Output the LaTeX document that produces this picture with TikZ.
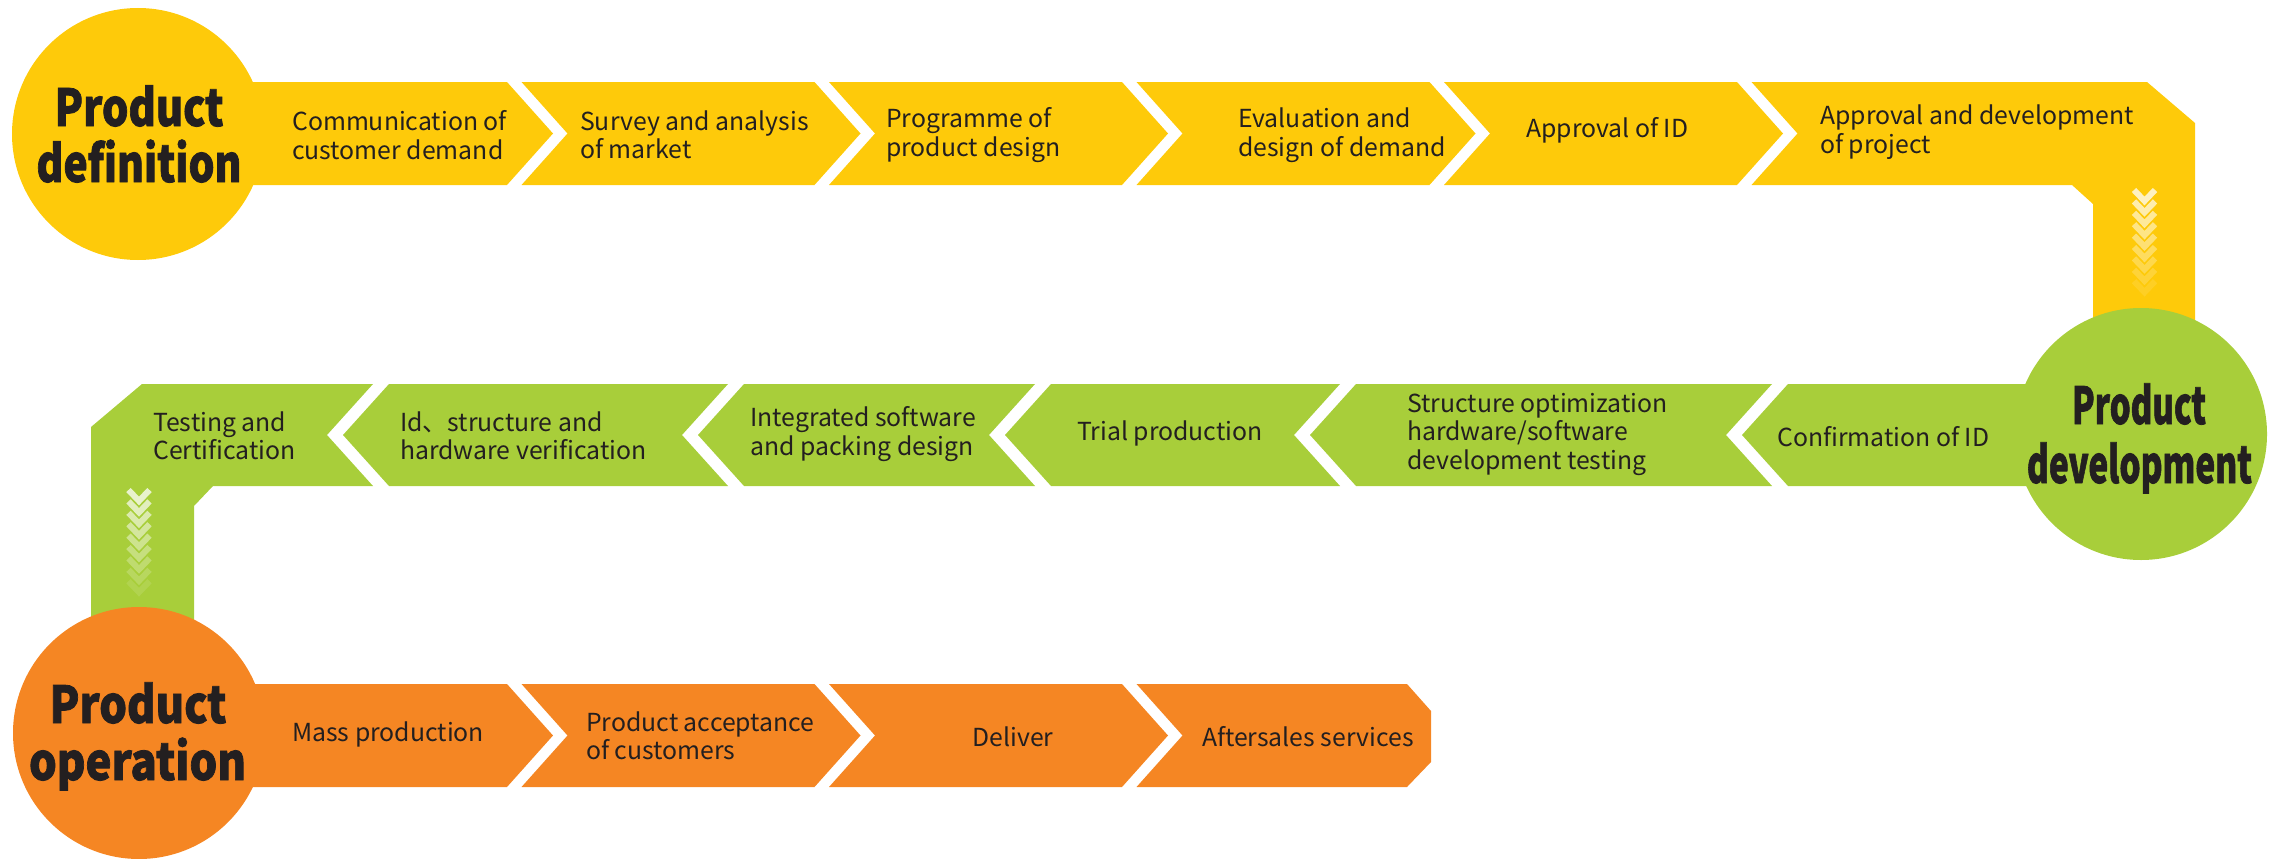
\documentclass[tikz,border=0pt]{standalone}
\usepackage{fontspec}
\setmainfont{Noto Sans CJK SC}
\newfontfamily\titlefont{Noto Sans CJK SC}[BoldFeatures={FakeBold=1.6}]
\usepackage{graphicx}
\definecolor{cy}{HTML}{FECA0A}
\definecolor{cg}{HTML}{A8CE3A}
\definecolor{co}{HTML}{F58623}
\definecolor{ct}{HTML}{231F20}
\tikzset{
  steptext/.style={font=\fontsize{24.8}{28.5}\selectfont, text=ct, inner sep=0pt, anchor=west, align=left},
  titletext/.style={font=\titlefont\bfseries\fontsize{51}{56}\selectfont, text=ct, inner sep=0pt, anchor=base},
  phase/.style={circle, minimum size=252pt, inner sep=0pt, draw=none}
}
\begin{document}
\begin{tikzpicture}[x=1pt,y=-1pt]
\useasboundingbox (0,0) rectangle (2270,859);
% ---------------- top row (yellow) ----------------
\fill[cy] (130,82) -- (507,82) -- (553,133.5) -- (507,185) -- (130,185) -- cycle;
\foreach \a/\b in {507/814.5, 814.5/1122, 1122/1429.5, 1429.5/1737}{
  \fill[cy] (\a+14.5,82) -- (\b,82) -- (\b+46,133.5) -- (\b,185) -- (\a+14.5,185) -- (\a+60.5,133.5) -- cycle;
}
\fill[cy] (1751.5,82) -- (2147,82) -- (2195,123) -- (2195,434) -- (2093,434) -- (2093,204) -- (2072,185) -- (1751.5,185) -- (1797.5,133.5) -- cycle;
% ---------------- middle row (green) ----------------
\fill[cg] (142,384) -- (373,384) -- (327,435) -- (373,486) -- (213,486) -- (194,506) -- (194,733) -- (91,733) -- (91,427) -- cycle;
\foreach \a/\b in {373/728, 728/1035, 1035/1340, 1340/1772}{
  \fill[cg] (\a+16,384) -- (\b,384) -- (\b-46,435) -- (\b,486) -- (\a+16,486) -- (\a-30,435) -- cycle;
}
\fill[cg] (1788,384) -- (2141,384) -- (2141,486) -- (1788,486) -- (1742,435) -- cycle;
% ---------------- bottom row (orange) ----------------
\fill[co] (139,684) -- (507,684) -- (553,735.5) -- (507,787) -- (139,787) -- cycle;
\foreach \a/\b in {507/814.5, 814.5/1122}{
  \fill[co] (\a+14.5,684) -- (\b,684) -- (\b+46,735.5) -- (\b,787) -- (\a+14.5,787) -- (\a+60.5,735.5) -- cycle;
}
\fill[co] (1136.5,684) -- (1407,684) -- (1431,711) -- (1431,762) -- (1407,787) -- (1136.5,787) -- (1182.5,735.5) -- cycle;
% ---------------- fading down chevrons ----------------
\foreach \i in {0,...,8}{
  \pgfmathsetmacro\op{0.75-0.08*\i}
  \draw[white, line width=6pt, opacity=\op] (2134,190+11.4*\i) -- (2144.5,201+11.4*\i) -- (2155,190+11.4*\i);
  \draw[white, line width=6pt, opacity=\op] (128.5,490+11.4*\i) -- (139,501+11.4*\i) -- (149.5,490+11.4*\i);
}
% ---------------- phase circles ----------------
\node[phase, fill=cy] (pdef) at (138,134) {};
\node[phase, fill=cg] (pdev) at (2141,434) {};
\node[phase, fill=co] (pop) at (139,733) {};
\node[titletext] (pdef1) at (139,126) {\resizebox{169pt}{\height}{Product}};
\node[titletext] (pdef2) at (139,182) {\resizebox{205pt}{\height}{definition}};
\node[titletext] (pdev1) at (2139,424) {\resizebox{134pt}{\height}{Product}};
\node[titletext] (pdev2) at (2139.5,483) {\resizebox{225pt}{\height}{development}};
\node[titletext] (pop1) at (138,723) {\resizebox{177pt}{\height}{Product}};
\node[titletext] (pop2) at (137.5,780) {\resizebox{217pt}{\height}{operation}};
% ---------------- step texts ----------------
\node[steptext] (t1) at (292,135) {Communication of\\customer demand};
\node[steptext] (t2) at (580,135) {Survey and analysis\\of market};
\node[steptext] (t3) at (886,135) {Programme of\\product design};
\node[steptext] (t4) at (1238,135) {Evaluation and\\design of demand};
\node[steptext] (t5) at (1526,130) {Approval of ID};
\node[steptext] (t6) at (1820,132) {Approval and development\\of project};
\node[steptext] (m1) at (153,436) {Testing and\\Certification};
\node[steptext] (m2) at (400,436) {Id、structure and\\hardware verification};
\node[steptext] (m3) at (750,434) {Integrated software\\and packing design};
\node[steptext] (m4) at (1077,433) {Trial production};
\node[steptext] (m5) at (1407,434) {Structure optimization\\hardware/software\\development testing};
\node[steptext] (m6) at (1777,437) {Confirmation of ID};
\node[steptext] (b1) at (292,734) {Mass production};
\node[steptext] (b2) at (586,736) {Product acceptance\\of customers};
\node[steptext, anchor=center] (b3) at (1013,737) {Deliver};
\node[steptext] (b4) at (1202,737) {Aftersales services};
\end{tikzpicture}
\end{document}
